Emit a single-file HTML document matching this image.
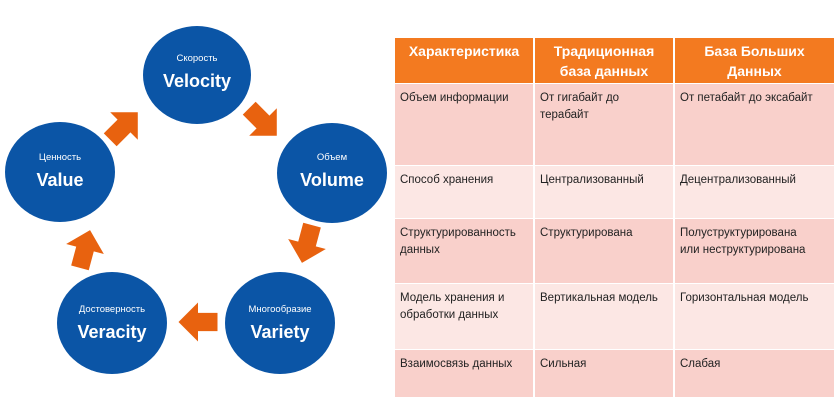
<!DOCTYPE html>
<html><head><meta charset="utf-8"><style>
body{margin:0;width:840px;height:402px;background:#fff;position:relative;overflow:hidden;font-family:"Liberation Sans","DejaVu Sans",sans-serif}
svg{position:absolute;left:0;top:0}
.c{position:absolute;box-sizing:border-box;font-size:11.5px;color:#222;padding:6px 5px;line-height:17px}
.h{background:#f37a20;color:#fff;font-weight:bold;font-size:14px;text-align:center;line-height:20px;padding:3px 12px}
.d{background:#f9d0cb}.l{background:#fce7e4}
</style></head><body>
<svg width="390" height="402">
<g fill="#0b55a6">
<ellipse cx="197" cy="75" rx="54" ry="49"/>
<ellipse cx="60" cy="172" rx="55" ry="50"/>
<ellipse cx="332" cy="173" rx="55" ry="50"/>
<ellipse cx="280" cy="323" rx="55" ry="51"/>
<ellipse cx="112" cy="323" rx="55" ry="51"/>
</g>
<g fill="#fff" text-anchor="middle" font-family="Liberation Sans, DejaVu Sans, sans-serif">
<text x="197" y="61" font-size="9.5">Скорость</text><text x="197" y="87" font-size="18" font-weight="bold">Velocity</text>
<text x="60" y="160" font-size="9.5">Ценность</text><text x="60" y="186" font-size="18" font-weight="bold">Value</text>
<text x="332" y="160" font-size="9.5">Объем</text><text x="332" y="186" font-size="18" font-weight="bold">Volume</text>
<text x="280" y="312" font-size="9.5">Многообразие</text><text x="280" y="338" font-size="18" font-weight="bold">Variety</text>
<text x="112" y="312" font-size="9.5">Достоверность</text><text x="112" y="338" font-size="18" font-weight="bold">Veracity</text>
</g>
<g fill="#e8620f">
<path d="M-15,-7 L0,-7 L0,-15 L15,0 L0,15 L0,7 L-15,7Z" transform="translate(124,126) rotate(-45) scale(1.3)"/>
<path d="M-15,-7 L0,-7 L0,-15 L15,0 L0,15 L0,7 L-15,7Z" transform="translate(263,122) rotate(45) scale(1.3)"/>
<path d="M-15,-7 L0,-7 L0,-15 L15,0 L0,15 L0,7 L-15,7Z" transform="translate(307,244) rotate(105) scale(1.3)"/>
<path d="M-15,-7 L0,-7 L0,-15 L15,0 L0,15 L0,7 L-15,7Z" transform="translate(198,322) rotate(180) scale(1.3)"/>
<path d="M-15,-7 L0,-7 L0,-15 L15,0 L0,15 L0,7 L-15,7Z" transform="translate(85,249) rotate(-75) scale(1.3)"/>
</g>
</svg>
<div class="c h" style="left:395px;top:38px;width:138px;height:45px;padding:3px 2px">Характеристика</div>
<div class="c h" style="left:535px;top:38px;width:138px;height:45px">Традиционная база данных</div>
<div class="c h" style="left:675px;top:38px;width:159px;height:45px;padding:3px 20px">База Больших Данных</div>

<div class="c d" style="left:395px;top:84px;width:138px;height:81px">Объем информации</div>
<div class="c d" style="left:535px;top:84px;width:138px;height:81px;padding-right:20px">От гигабайт до терабайт</div>
<div class="c d" style="left:675px;top:84px;width:159px;height:81px">От петабайт до эксабайт</div>

<div class="c l" style="left:395px;top:166px;width:138px;height:52px">Способ хранения</div>
<div class="c l" style="left:535px;top:166px;width:138px;height:52px">Централизованный</div>
<div class="c l" style="left:675px;top:166px;width:159px;height:52px">Децентрализованный</div>

<div class="c d" style="left:395px;top:219px;width:138px;height:64px">Структурированность данных</div>
<div class="c d" style="left:535px;top:219px;width:138px;height:64px">Структурирована</div>
<div class="c d" style="left:675px;top:219px;width:159px;height:64px">Полуструктурирована<br>или неструктурирована</div>

<div class="c l" style="left:395px;top:284px;width:138px;height:65px">Модель хранения и обработки данных</div>
<div class="c l" style="left:535px;top:284px;width:138px;height:65px">Вертикальная модель</div>
<div class="c l" style="left:675px;top:284px;width:159px;height:65px">Горизонтальная модель</div>

<div class="c d" style="left:395px;top:350px;width:138px;height:47px">Взаимосвязь данных</div>
<div class="c d" style="left:535px;top:350px;width:138px;height:47px">Сильная</div>
<div class="c d" style="left:675px;top:350px;width:159px;height:47px">Слабая</div>
</body></html>
